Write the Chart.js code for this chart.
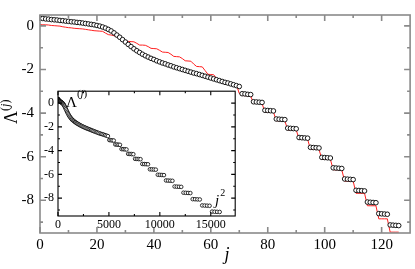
<!DOCTYPE html>
<html>
<head>
<meta charset="utf-8">
<script src="https://cdn.jsdelivr.net/npm/chart.js@4.4.0/dist/chart.umd.min.js"></script>
<style>
  html, body { margin: 0; padding: 0; background: #fff; }
  #wrap { position: relative; width: 415px; height: 269px; }
  #main { position: absolute; left: 0; top: 0; width: 415px; height: 269px; }
  #inset { position: absolute; left: 40px; top: 80px; width: 200px; height: 150px; }
</style>
</head>
<body>
<div id="wrap">
  <canvas id="main" width="415" height="269"></canvas>
  <canvas id="inset" width="200" height="150"></canvas>
</div>
<script>
// Lambda^(j), j = 0 .. 126 (open circles)
const lambda = [
  0.35, 0.34, 0.32, 0.31, 0.29, 0.28, 0.27, 0.25, 0.24, 0.22,
  0.21, 0.19, 0.18, 0.16, 0.15, 0.13, 0.11, 0.09, 0.07, 0.05,
  0.02, -0.01, -0.05, -0.10, -0.16, -0.23, -0.32, -0.42, -0.52, -0.63,
  -0.74, -0.85, -0.95, -1.05, -1.14, -1.22, -1.30, -1.37, -1.43, -1.49,
  -1.54, -1.60, -1.65, -1.70, -1.74, -1.79, -1.83, -1.88, -1.92, -1.96,
  -2.00, -2.04, -2.08, -2.12, -2.16, -2.19, -2.23, -2.27, -2.31, -2.35,
  -2.39, -2.43, -2.47, -2.51, -2.55, -2.59, -2.62, -2.66, -2.70, -2.74,
  -2.78,
  -3.11, -3.12, -3.14, -3.15,
  -3.48, -3.49, -3.50, -3.51,
  -3.87, -3.88, -3.89, -3.90,
  -4.27, -4.28, -4.29, -4.30,
  -4.69, -4.70, -4.71, -4.72,
  -5.12, -5.13, -5.14, -5.15,
  -5.57, -5.58, -5.59, -5.60,
  -6.03, -6.04, -6.05, -6.06,
  -6.51, -6.52, -6.53, -6.54,
  -7.02, -7.03, -7.04, -7.05,
  -7.54, -7.55, -7.56, -7.57,
  -8.08, -8.09, -8.10, -8.11,
  -8.61, -8.62, -8.63, -8.64,
  -9.13, -9.14, -9.15, -9.16
];

// red step curve, same j
const redLine = [
  0.06, 0.05, 0.05, 0.04, 0.02, 0.01, 0.00, -0.01, -0.04, -0.06,
  -0.08, -0.09, -0.11, -0.12, -0.13, -0.14, -0.16, -0.18, -0.20, -0.22,
  -0.23, -0.24, -0.25, -0.33, -0.40, -0.42, -0.45, -0.50, -0.55, -0.66,
  -0.70, -0.71, -0.72, -0.73, -0.80, -0.88, -0.88, -0.89, -0.95, -1.03,
  -1.04, -1.05, -1.12, -1.20, -1.21, -1.22, -1.30, -1.40, -1.41, -1.42,
  -1.50, -1.60, -1.61, -1.62, -1.75, -1.86, -1.87, -1.88, -2.05, -2.22,
  -2.23, -2.24, -2.40, -2.50, -2.52, -2.55, -2.62, -2.64, -2.66, -2.70,
  -3.10,
  -3.19, -3.20, -3.20, -3.21,
  -3.56, -3.56, -3.56, -3.56,
  -3.95, -3.95, -3.95, -3.95,
  -4.35, -4.35, -4.35, -4.35,
  -4.77, -4.77, -4.77, -4.77,
  -5.20, -5.20, -5.20, -5.20,
  -5.66, -5.66, -5.66, -5.66,
  -6.12, -6.12, -6.12, -6.12,
  -6.60, -6.60, -6.60, -6.60,
  -7.12, -7.12, -7.12, -7.12,
  -7.68, -7.68, -7.68, -7.68,
  -8.25, -8.25, -8.25, -8.25,
  -8.85, -8.85, -8.85, -8.85,
  -9.46, -9.46, -9.46, -9.46
];

const jValues = lambda.map((_, i) => i);

// tick positions (labelled ones listed separately)
const mainXTicks = [0, 10, 20, 30, 40, 50, 60, 70, 80, 90, 100, 110, 120];
const mainXLabels = [0, 20, 40, 60, 80, 100, 120];
const mainYTicks = [-9, -8, -7, -6, -5, -4, -3, -2, -1, 0];
const mainYLabels = [0, -2, -4, -6, -8];
const insetXTicks = [0, 2500, 5000, 7500, 10000, 12500, 15000];
const insetXLabels = [0, 5000, 10000, 15000];
const insetYTicks = [-9, -8, -7, -6, -5, -4, -3, -2, -1, 0];
const insetYLabels = [0, -2, -4, -6, -8];

const serif = 'Liberation Serif';

// box + inward ticks on all four sides
function axisFrame(color, width, major, minor) {
  return {
    id: 'axisFrame',
    beforeDatasetsDraw(chart) {
      const { ctx, chartArea: a } = chart;
      ctx.save();
      ctx.fillStyle = '#fff';
      ctx.fillRect(a.left, a.top, a.right - a.left, a.bottom - a.top);
      ctx.restore();
    },
    afterDraw(chart) {
      const { ctx, chartArea: a, scales } = chart;
      ctx.save();
      ctx.strokeStyle = color;
      ctx.lineWidth = width;
      ctx.beginPath();
      scales.x.ticks.forEach(t => {
        const px = scales.x.getPixelForValue(t.value);
        const len = t.label !== '' ? major : minor;
        ctx.moveTo(px, a.bottom); ctx.lineTo(px, a.bottom - len);
        ctx.moveTo(px, a.top); ctx.lineTo(px, a.top + len);
      });
      scales.y.ticks.forEach(t => {
        const py = scales.y.getPixelForValue(t.value);
        const len = t.label !== '' ? major : minor;
        ctx.moveTo(a.left, py); ctx.lineTo(a.left + len, py);
        ctx.moveTo(a.right, py); ctx.lineTo(a.right - len, py);
      });
      ctx.stroke();
      ctx.strokeRect(a.left, a.top, a.right - a.left, a.bottom - a.top);
      ctx.restore();
    }
  };
}

// draw a run of text pieces: [text, font, dy]
function richText(ctx, x, y, parts) {
  let cx = x;
  parts.forEach(([t, font, dy]) => {
    ctx.font = font;
    ctx.fillText(t, cx, y + (dy || 0));
    cx += ctx.measureText(t).width;
  });
}

const mainTitles = {
  id: 'mainTitles',
  afterDraw(chart) {
    const ctx = chart.ctx;
    ctx.save();
    ctx.fillStyle = '#000';
    ctx.textBaseline = 'alphabetic';
    ctx.textAlign = 'left';
    ctx.translate(17, 124);
    ctx.rotate(-Math.PI / 2);
    richText(ctx, 0, 0, [
      ['\u039B', '18px ' + serif, 0],
      ['(', '12px ' + serif, -8],
      ['j', 'italic 12px ' + serif, -8],
      [')', '12px ' + serif, -8]
    ]);
    ctx.restore();
    ctx.save();
    ctx.fillStyle = '#000';
    ctx.font = 'italic 18px ' + serif;
    ctx.textAlign = 'center';
    ctx.fillText('j', 227, 260);
    ctx.restore();
  }
};

const insetTitles = {
  id: 'insetTitles',
  afterDraw(chart) {
    const ctx = chart.ctx;
    ctx.save();
    ctx.fillStyle = '#000';
    ctx.textAlign = 'left';
    // canvas sits at (40, 80) in the page
    richText(ctx, 66 - 40, 107 - 80, [
      ['\u039B', '15px ' + serif, 0],
      ['(', '11px ' + serif, -10],
      ['j', 'italic 11px ' + serif, -10],
      [')', '11px ' + serif, -10]
    ]);
    richText(ctx, 215 - 40, 205 - 80, [
      ['j', 'italic 15px ' + serif, 0],
      [' ', '4px ' + serif, 0],
      ['2', '10px ' + serif, -9]
    ]);
    ctx.restore();
  }
};

function fixedTicks(values) {
  return scale => { scale.ticks = values.map(v => ({ value: v })); };
}

new Chart(document.getElementById('main'), {
  type: 'scatter',
  data: {
    datasets: [{
      data: jValues.map((j, i) => ({ x: j, y: lambda[i] })),
      showLine: false,
      pointRadius: 2.3,
      pointBorderWidth: 0.9,
      pointBackgroundColor: '#fff',
      pointBorderColor: '#000'
    }, {
      data: jValues.map((j, i) => ({ x: j, y: redLine[i] })),
      showLine: true,
      pointRadius: 0,
      borderWidth: 1,
      borderColor: '#ff2020'
    }]
  },
  options: {
    responsive: false,
    animation: false,
    devicePixelRatio: 1,
    layout: { padding: { left: 0, right: 2, top: 2, bottom: 0 } },
    plugins: { legend: { display: false }, tooltip: { enabled: false } },
    scales: {
      x: {
        type: 'linear', min: 0, max: 130,
        grid: { display: false, drawTicks: false },
        border: { display: false },
        afterBuildTicks: fixedTicks(mainXTicks),
        ticks: {
          autoSkip: false, maxRotation: 0,
          padding: 3, color: '#000', font: { family: serif, size: 15 },
          callback: v => mainXLabels.includes(v) ? String(v) : ''
        },
        afterFit: s => { s.height = 36; }
      },
      y: {
        type: 'linear', min: -9.5, max: 0.5,
        grid: { display: false, drawTicks: false },
        border: { display: false },
        afterBuildTicks: fixedTicks(mainYTicks),
        ticks: {
          autoSkip: false,
          padding: 6, color: '#000', font: { family: serif, size: 15 },
          callback: v => mainYLabels.includes(v) ? String(v) : ''
        },
        afterFit: s => { s.width = 40; }
      }
    }
  },
  plugins: [axisFrame('#8a8a8a', 1.6, 6, 3), mainTitles]
});

new Chart(document.getElementById('inset'), {
  type: 'scatter',
  data: {
    datasets: [{
      data: jValues.map((j, i) => ({ x: j * j, y: lambda[i] })),
      showLine: false,
      pointRadius: 1.8,
      pointBorderWidth: 0.8,
      pointBackgroundColor: '#fff',
      pointBorderColor: '#000'
    }]
  },
  options: {
    responsive: false,
    animation: false,
    devicePixelRatio: 1,
    layout: { padding: { left: 0, right: 3, top: 3, bottom: 0 } },
    plugins: { legend: { display: false }, tooltip: { enabled: false } },
    scales: {
      x: {
        type: 'linear', min: 0, max: 17400,
        grid: { display: false, drawTicks: false },
        border: { display: false },
        afterBuildTicks: fixedTicks(insetXTicks),
        ticks: {
          autoSkip: false, maxRotation: 0,
          padding: 2, color: '#000', font: { family: serif, size: 12 },
          callback: v => insetXLabels.includes(v) ? String(v) : ''
        },
        afterFit: s => { s.height = 14; }
      },
      y: {
        type: 'linear', min: -9.5, max: 1,
        grid: { display: false, drawTicks: false },
        border: { display: false },
        afterBuildTicks: fixedTicks(insetYTicks),
        ticks: {
          autoSkip: false,
          padding: 4, color: '#000', font: { family: serif, size: 12 },
          callback: v => insetYLabels.includes(v) ? String(v) : ''
        },
        afterFit: s => { s.width = 18; }
      }
    }
  },
  plugins: [axisFrame('#000', 1.1, 4, 2), insetTitles]
});
</script>
</body>
</html>
